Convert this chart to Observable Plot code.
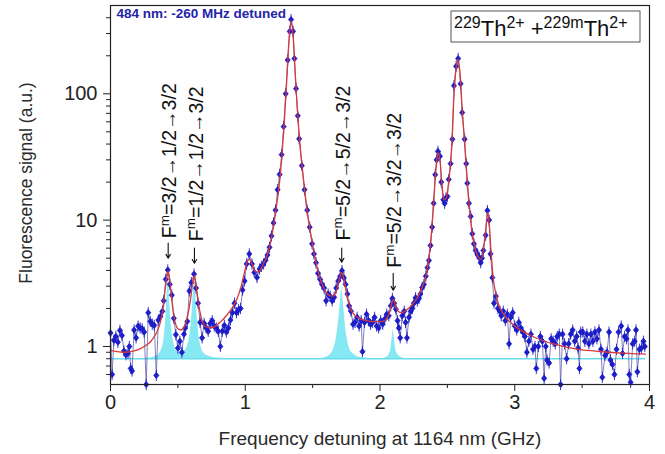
<!DOCTYPE html>
<html><head><meta charset="utf-8">
<script src="https://cdn.jsdelivr.net/npm/d3@7"></script>
<script src="https://cdn.jsdelivr.net/npm/@observablehq/plot@0.6"></script>
<style>
body{margin:0;background:#fff}
#chart{width:665px;height:454px}
</style>
</head><body><div id="chart"></div>
<script>
// ---- measured fluorescence signal (blue points) ----
const freq = [
0.000,0.012,0.025,0.040,0.055,0.070,0.085,0.100,0.115,0.130,
0.140,0.150,0.160,0.175,0.190,0.205,0.220,0.235,0.250,0.265,
0.280,0.295,0.310,0.325,0.340,0.355,0.370,0.385,0.395,0.410,
0.425,0.440,0.455,0.470,0.485,0.500,0.515,0.530,0.545,0.555,
0.570,0.585,0.600,0.620,0.635,0.650,0.665,0.680,0.695,0.710,
0.725,0.740,0.755,0.770,0.785,0.800,0.815,0.830,0.845,0.860,
0.875,0.890,0.905,0.920,0.935,0.950,0.965,0.980,0.995,1.010,
1.030,1.050,1.067,1.087,1.106,1.120,1.136,1.150,1.165,1.180,
1.195,1.210,1.225,1.240,1.255,1.270,1.285,1.300,1.315,1.330,
1.340,1.355,1.365,1.377,1.390,1.400,1.420,1.440,1.460,1.478,
1.496,1.510,1.525,1.540,1.555,1.570,1.585,1.600,1.615,1.630,
1.645,1.660,1.675,1.690,1.705,1.718,1.732,1.745,1.758,1.770,
1.785,1.800,1.815,1.830,1.845,1.860,1.870,1.885,1.900,1.915,
1.930,1.945,1.960,1.975,1.990,2.005,2.020,2.035,2.050,2.065,
2.080,2.092,2.105,2.118,2.130,2.140,2.150,2.165,2.180,2.190,
2.200,2.215,2.228,2.240,2.252,2.264,2.277,2.290,2.300,2.313,
2.326,2.340,2.352,2.363,2.375,2.387,2.398,2.410,2.420,2.430,
2.445,2.455,2.470,2.480,2.490,2.500,2.510,2.524,2.537,2.549,
2.565,2.580,2.598,2.610,2.628,2.640,2.648,2.660,2.673,2.685,
2.697,2.710,2.722,2.735,2.747,2.757,2.767,2.784,2.797,2.810,
2.820,2.834,2.846,2.860,2.875,2.890,2.900,2.915,2.930,2.945,
2.958,2.970,2.985,3.000,3.015,3.030,3.045,3.060,3.075,3.090,
3.105,3.120,3.135,3.150,3.160,3.175,3.190,3.205,3.218,3.230,
3.240,3.255,3.270,3.285,3.300,3.315,3.330,3.340,3.355,3.370,
3.385,3.400,3.415,3.430,3.445,3.460,3.470,3.480,3.490,3.505,
3.520,3.535,3.550,3.565,3.580,3.595,3.610,3.625,3.640,3.650,
3.670,3.685,3.700,3.710,3.725,3.740,3.755,3.770,3.790,3.800,
3.815,3.830,3.840,3.850,3.860,3.875,3.890,3.900,3.910,3.925,
3.940,3.955,3.965
];
const signal = [
1.28,0.60,1.12,1.20,1.08,1.34,1.22,0.92,0.86,0.88,
1.00,0.67,0.64,1.35,1.17,1.45,1.40,1.38,1.30,0.50,
1.85,1.58,1.50,1.47,0.59,1.62,1.72,1.90,2.30,3.40,
4.03,3.10,2.55,1.67,1.24,0.97,1.10,0.90,1.25,1.40,
1.58,2.75,3.20,3.74,2.90,2.20,1.55,1.17,1.52,1.40,
1.32,1.52,1.60,1.45,1.40,1.32,1.00,1.32,1.47,1.30,
1.40,1.62,1.85,2.20,1.85,1.95,2.00,2.80,3.30,4.50,
5.40,4.50,3.86,3.52,4.10,4.30,4.50,4.80,5.30,6.10,
7.5,9.5,12,17.4,23,33,55,100,185,312,
387,312,190,110,67,44,27,17.4,12,8.8,
6.5,5.4,4.6,3.8,3.4,3.1,2.9,2.3,2.6,2.5,
2.3,2.45,2.9,3.3,3.6,3.98,3.5,3.1,2.6,2.1,
1.9,1.5,1.55,1.7,1.45,1.6,0.91,1.55,1.8,1.6,
1.5,1.55,1.7,1.45,1.4,1.6,1.5,1.65,1.8,1.75,
2.1,2.4,2.2,1.97,1.6,1.4,1.17,1.75,1.9,1.55,
1.17,1.7,1.9,2.0,2.2,2.43,2.29,2.4,2.6,2.93,
3.1,3.6,4.2,4.8,6.3,8.8,13.6,22.9,30,35,
32,20,14.5,13.6,15,15.4,21,28,43.7,116,
165,190,120,71,43.7,28,19.6,13.6,10.7,7.8,
6.5,5.75,5.4,5.1,4.6,5.0,5.75,7.6,11.9,10,
5.4,3.5,2.2,2.5,2.0,1.9,1.75,1.9,1.6,1.8,
1.05,1.7,1.85,1.45,1.35,1.55,1.4,1.3,1.2,0.9,
1.1,1.25,0.95,1.0,0.67,1.0,1.2,1.1,0.56,1.0,
0.78,0.74,1.15,1.1,1.05,1.2,1.25,0.50,1.25,1.05,
0.8,1.05,1.25,1.35,1.1,1.2,0.97,0.67,1.3,1.3,
1.1,1.25,1.05,1.25,1.1,1.3,1.15,1.35,0.95,0.57,
0.85,0.9,1.3,0.78,0.72,0.6,0.95,1.3,1.45,0.88,
1.2,1.15,1.35,0.6,0.52,1.05,1.1,1.35,0.63,0.95,
0.97,1.1,1.0
];
// ---- fitted curve (red) ----
const fitFreq = [
0.00,0.05,0.10,0.15,0.20,0.25,0.30,0.34,0.37,0.39,
0.405,0.418,0.428,0.438,0.45,0.465,0.48,0.50,0.525,0.55,
0.575,0.595,0.61,0.623,0.635,0.65,0.67,0.70,0.74,0.78,
0.82,0.86,0.90,0.94,0.97,0.995,1.015,1.03,1.05,1.075,
1.10,1.13,1.16,1.19,1.21,1.23,1.25,1.27,1.29,1.31,
1.325,1.34,1.355,1.37,1.385,1.40,1.42,1.44,1.46,1.48,
1.50,1.52,1.55,1.58,1.62,1.65,1.675,1.695,1.715,1.735,
1.755,1.78,1.81,1.85,1.90,1.95,2.00,2.04,2.07,2.09,
2.10,2.115,2.135,2.16,2.20,2.24,2.28,2.31,2.34,2.36,
2.38,2.40,2.415,2.43,2.445,2.46,2.475,2.49,2.51,2.53,
2.55,2.565,2.58,2.595,2.61,2.625,2.645,2.665,2.685,2.71,
2.735,2.75,2.77,2.785,2.798,2.81,2.825,2.84,2.86,2.88,
2.91,2.95,3.00,3.10,3.20,3.30,3.40,3.50,3.60,3.70,
3.80,3.90,3.97
];
const fitSignal = [
0.93,0.91,0.90,0.91,0.94,1.00,1.10,1.28,1.55,2.0,
2.8,3.6,3.95,3.5,2.6,1.9,1.55,1.38,1.35,1.45,
1.8,2.4,3.2,3.65,3.1,2.3,1.75,1.45,1.40,1.45,
1.58,1.75,2.0,2.4,3.0,3.9,4.7,4.9,4.5,3.9,
3.9,4.4,5.2,6.8,9,12.5,18,30,60,140,
270,380,290,150,80,48,28,17.5,11.5,8.5,
6.3,4.9,3.6,2.95,2.55,2.5,2.75,3.3,3.85,3.3,
2.5,2.0,1.78,1.66,1.6,1.57,1.57,1.62,1.85,2.25,
2.35,2.1,1.9,1.85,1.95,2.15,2.45,2.9,3.6,4.8,
7.5,15,25,34,30,19,14.5,14.8,20,35,
100,160,188,140,75,45,22,12,7.8,5.8,
5.0,4.9,6.2,8.5,11.5,9.5,5.5,3.5,2.6,2.15,
1.85,1.62,1.45,1.25,1.12,1.04,0.98,0.94,0.92,0.90,
0.885,0.875,0.87
];
// ---- fitted isomer components (cyan) ----
const cyanBase = 0.8;
const cyanFreq = [
0.00,0.20,0.28,0.33,0.36,0.38,0.395,0.405,0.415,0.422,
0.428,0.434,0.442,0.452,0.465,0.48,0.50,0.525,0.55,0.57,
0.585,0.598,0.608,0.616,0.623,0.630,0.638,0.648,0.66,0.675,
0.70,0.74,0.80,0.90,1.55,1.60,1.63,1.655,1.675,1.69,
1.70,1.71,1.716,1.722,1.732,1.745,1.76,1.78,1.81,1.85,
1.95,2.02,2.05,2.07,2.08,2.09,2.098,2.106,2.115,2.13,
2.15,2.20,3.97
];
const cyanSignal = [
0.80,0.80,0.81,0.83,0.87,0.95,1.1,1.4,2.0,2.9,
3.95,3.0,2.0,1.45,1.12,0.97,0.90,0.89,0.92,1.0,
1.15,1.5,2.0,2.8,3.6,2.9,2.1,1.5,1.15,0.97,
0.87,0.83,0.81,0.80,0.80,0.82,0.86,0.95,1.15,1.5,
1.9,2.5,2.9,2.6,2.0,1.4,1.1,0.93,0.86,0.82,
0.80,0.80,0.82,0.87,0.95,1.15,1.37,1.15,0.97,0.87,
0.83,0.80,0.80
];
// ---- annotations ----
const peakFreq   = [0.428, 0.623, 1.716, 2.098];
const arrowFrom  = [6.6, 6.0, 6.0, 3.8];
const arrowTo    = [5.0, 4.56, 4.65, 2.79];
const labelAt    = [7.2, 6.8, 6.9, 4.2];
const peakLabels = ["F^{m}=3/2→1/2→3/2", "F^{m}=1/2→1/2→3/2", "F^{m}=5/2→5/2→3/2", "F^{m}=5/2→3/2→3/2"];
const xTicks = [0, 1, 2, 3, 4];
const xMinor = [0.5, 1.5, 2.5, 3.5];
const yTicks = [1, 10, 100];
const yMinor = [0.6,0.7,0.8,0.9,2,3,4,5,6,7,8,9,20,30,40,50,60,70,80,90,200,300,400];
const cornerNote = "484 nm: -260 MHz detuned";
const legendText = "^{229}Th^{2+} +^{229m}Th^{2+}";
const xTitle = "Frequency detuning at 1164 nm (GHz)";
const yTitle = "Fluorescence signal (a.u.)";

const pts = freq.map((f, i) => ({f, v: signal[i]}));
const fit = fitFreq.map((f, i) => ({f, v: fitSignal[i]}));
const cyan = cyanFreq.map((f, i) => ({f, v: cyanSignal[i]}));

const barDiamond = {
  draw(ctx, size) {
    const r = Math.sqrt(size / Math.PI);
    const h = r * 1.25, w = r * 1.0;
    ctx.moveTo(0, -h); ctx.lineTo(w, 0); ctx.lineTo(0, h); ctx.lineTo(-w, 0); ctx.closePath();
    ctx.moveTo(0, -h - 2.5); ctx.lineTo(0, h + 2.5);
  }
};

const ink = "#222";
const chart = Plot.plot({
  width: 665, height: 454,
  marginLeft: 110, marginRight: 16, marginTop: 5, marginBottom: 70,
  style: {fontFamily: "'Liberation Sans', Arial, sans-serif", background: "#fff", color: ink},
  x: {domain: [0, 4]},
  y: {type: "log", domain: [0.5, 500]},
  marks: [
    Plot.areaY(cyan, {x: "f", y1: () => cyanBase, y2: "v", fill: "#86e8f3", curve: "monotone-x"}),
    Plot.ruleY([cyanBase], {x1: 0, x2: 3.97, stroke: "#66def0", strokeWidth: 1.6}),
    Plot.line(pts, {x: "f", y: "v", stroke: "#5a5aa8", strokeWidth: 0.9, strokeOpacity: 0.85}),
    Plot.dot(pts, {x: "f", y: "v", symbol: barDiamond, r: 2.5, fill: "#1e1ec8", stroke: "#1e1ec8", strokeWidth: 0.9}),
    Plot.line(fit, {x: "f", y: "v", stroke: "#d63a3a", strokeWidth: 1.3, curve: "monotone-x"}),
    Plot.arrow(peakFreq, {x1: d => d, x2: d => d, y1: (d, i) => arrowFrom[i], y2: (d, i) => arrowTo[i], stroke: "#111", strokeWidth: 1.1, headLength: 6}),
    Plot.text(peakFreq, {x: d => d, y: (d, i) => labelAt[i], text: (d, i) => peakLabels[i], rotate: -90, textAnchor: "start", fontSize: 19.5, dx: 2, fill: "#111"}),
    Plot.text([cornerNote], {frameAnchor: "top-left", textAnchor: "start", dx: 6, dy: 3, fontSize: 13.5, fontWeight: "bold", fill: "#2424a8"}),
    Plot.axisX(xTicks, {tickSize: 7, tickPadding: 3, fontSize: 20, label: null, tickFormat: d => String(d), stroke: ink, fill: ink}),
    Plot.axisX(xMinor, {tickSize: 4, label: null, tickFormat: () => "", stroke: ink}),
    Plot.axisY(yTicks, {tickSize: 7, tickPadding: 6, fontSize: 20, label: null, tickFormat: d => String(d), stroke: ink, fill: ink}),
    Plot.axisY(yMinor, {tickSize: 4, label: null, tickFormat: () => "", stroke: ink}),
    Plot.text([xTitle], {frameAnchor: "bottom", textAnchor: "middle", lineAnchor: "bottom", dy: 60, fontSize: 19, fill: "#2a2a2a"}),
    Plot.text([yTitle], {frameAnchor: "left", textAnchor: "middle", lineAnchor: "middle", rotate: -90, dx: -84, dy: -12, fontSize: 17.5, fill: "#2a2a2a"}),
    Plot.frame({stroke: ink, strokeWidth: 1.2})
  ]
});

const NS = "http://www.w3.org/2000/svg";
function richText(el, str, supSize, rise) {
  el.textContent = "";
  let raised = false;
  for (const p of str.split(/(\^\{[^}]*\})/)) {
    if (!p) continue;
    const t = document.createElementNS(NS, "tspan");
    if (p.startsWith("^{")) {
      t.textContent = p.slice(2, -1);
      t.setAttribute("font-size", supSize);
      if (!raised) t.setAttribute("dy", -rise);
      raised = true;
    } else {
      t.textContent = p;
      if (raised) t.setAttribute("dy", rise);
      raised = false;
    }
    el.appendChild(t);
  }
}
chart.querySelectorAll("text").forEach(el => {
  if (el.textContent.includes("^{")) richText(el, el.textContent, 13.5, 7.5);
});

// legend box (top right)
const g = d3.select(chart).append("g");
g.append("rect").attr("x", 451).attr("y", 11).attr("width", 189).attr("height", 31)
  .attr("fill", "#fff").attr("stroke", "#555").attr("stroke-width", 1);
const lt = g.append("text").attr("x", 454).attr("y", 36).attr("text-anchor", "start")
  .attr("font-family", "'Liberation Sans', Arial, sans-serif").attr("font-size", 22).attr("fill", "#111");
richText(lt.node(), legendText, 16, 8);

document.getElementById("chart").appendChild(chart);
</script>
</body></html>
